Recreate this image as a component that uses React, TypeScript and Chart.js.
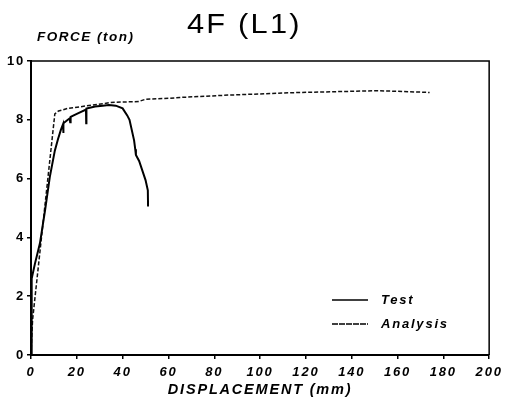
import React, { useEffect, useRef } from "react";
import { Chart, registerables } from "chart.js";

Chart.register(...registerables);

// ---- data ----
const titleText = "4F (L1)";
const yAxisTitle = "FORCE (ton)";
const xAxisTitle = "DISPLACEMENT (mm)";
const seriesNames = ["Test", "Analysis"];

const xTickValues = [0, 20, 40, 60, 80, 100, 120, 140, 160, 180, 200];
const yTickValues = [0, 2, 4, 6, 8, 10];

const testX = [0, 0.2, 0.4, 1.7, 3.9, 6.1, 8.2, 10.4, 11.8, 13, 14, 14.1, 14.2, 16.9, 17.1, 17.3, 20, 24, 24.1, 24.2, 28, 31.3, 34, 37, 40, 42, 43, 45, 45.5, 45.8, 47.2, 50, 51, 51.1];
const testY = [0, 1.0, 2.6, 3.1, 3.8, 4.9, 6.05, 6.95, 7.35, 7.65, 7.85, 7.55, 7.88, 8.05, 7.92, 8.1, 8.2, 8.35, 7.88, 8.38, 8.45, 8.48, 8.5, 8.48, 8.39, 8.15, 8.0, 7.3, 7.0, 6.8, 6.6, 5.95, 5.6, 5.05];

const analysisX = [0, 0.3, 0.7, 10.4, 12, 16.2, 24, 27, 34.2, 37, 47, 50, 60, 65, 73, 86, 100, 117, 135, 151, 160, 174];
const analysisY = [0, 0.6, 1.2, 8.2, 8.3, 8.39, 8.47, 8.5, 8.58, 8.6, 8.62, 8.7, 8.73, 8.76, 8.79, 8.84, 8.88, 8.93, 8.96, 8.99, 8.97, 8.93];

const FONT = "'Liberation Sans', Arial, Helvetica, sans-serif";

function toPoints(xs: number[], ys: number[]) {
  return xs.map((x, i) => ({ x, y: ys[i] }));
}

const decorPlugin = {
  id: "decor",
  beforeDraw(chart: any) {
    (chart.ctx as any).letterSpacing = "1.8px";
  },
  afterDraw(chart: any) {
    const ctx = chart.ctx as CanvasRenderingContext2D;
    const a = chart.chartArea;
    ctx.save();
    // frame (top / right)
    ctx.strokeStyle = "#000";
    ctx.lineWidth = 1.5;
    ctx.beginPath();
    ctx.moveTo(a.left, a.top);
    ctx.lineTo(a.right, a.top);
    ctx.lineTo(a.right, a.bottom);
    ctx.stroke();

    // title (wide, light sans)
    ctx.fillStyle = "#000";
    ctx.textBaseline = "alphabetic";
    ctx.textAlign = "left";
    ctx.save();
    ctx.translate(187, 33);
    ctx.scale(1.1, 1);
    (ctx as any).letterSpacing = "2px";
    ctx.font = `normal 28px ${FONT}`;
    ctx.fillText(titleText, 0, 0);
    ctx.restore();

    // y-axis title
    (ctx as any).letterSpacing = "1.5px";
    ctx.font = `italic bold 13.5px ${FONT}`;
    ctx.fillText(yAxisTitle, 37, 41);

    // legend inside plot
    const ds = chart.data.datasets;
    const rows = [
      { y: a.top + 239, idx: 0 },
      { y: a.top + 263, idx: 1 },
    ];
    rows.forEach((r) => {
      const d = ds[r.idx];
      ctx.beginPath();
      ctx.setLineDash(r.idx === 1 ? [6, 1] : []);
      ctx.lineWidth = 1.3;
      ctx.strokeStyle = "#000";
      ctx.moveTo(a.left + 301, r.y);
      ctx.lineTo(a.left + 337, r.y);
      ctx.stroke();
      ctx.setLineDash([]);
      (ctx as any).letterSpacing = "1.8px";
      ctx.font = `italic bold 13px ${FONT}`;
      ctx.textBaseline = "middle";
      ctx.fillText(d.label, a.left + 350, r.y);
    });
    ctx.restore();
  },
};

export default function App() {
  const ref = useRef<HTMLCanvasElement | null>(null);
  useEffect(() => {
    document.body.style.margin = "0";
    const canvas = ref.current!;
    const chart = new Chart(canvas, {
      type: "scatter",
      data: {
        datasets: [
          {
            label: seriesNames[0],
            data: toPoints(testX, testY),
            showLine: true,
            borderColor: "#000",
            borderWidth: 2,
            pointRadius: 0,
            tension: 0,
          },
          {
            label: seriesNames[1],
            data: toPoints(analysisX, analysisY),
            showLine: true,
            borderColor: "#111",
            borderWidth: 1.5,
            borderDash: [4, 2],
            pointRadius: 0,
            tension: 0,
          },
        ],
      },
      options: {
        animation: false,
        responsive: false,
        layout: { padding: { left: 0, top: 61, right: 13.5, bottom: 0 } },
        plugins: {
          legend: { display: false },
          title: { display: false },
          tooltip: { enabled: false },
        },
        scales: {
          x: {
            type: "linear",
            min: 0,
            max: 200,
            afterBuildTicks: (s: any) => {
              s.ticks = xTickValues.map((v) => ({ value: v }));
            },
            afterFit: (s: any) => {
              s.height = 48;
            },
            ticks: {
              color: "#000",
              padding: 6,
              maxRotation: 0,
              autoSkip: false,
              font: { family: FONT, size: 13, weight: "bold", style: "italic" },
            },
            grid: {
              display: true,
              drawOnChartArea: false,
              drawTicks: true,
              tickLength: 4,
              color: "#000",
              lineWidth: 1.5,
            },
            border: { display: true, color: "#000", width: 2 },
            title: {
              display: true,
              text: xAxisTitle,
              color: "#000",
              font: { family: FONT, size: 14.5, weight: "bold", style: "italic" },
              padding: { top: 0, bottom: 4 },
            },
          },
          y: {
            type: "linear",
            min: 0,
            max: 10,
            afterBuildTicks: (s: any) => {
              s.ticks = yTickValues.map((v) => ({ value: v }));
            },
            afterFit: (s: any) => {
              s.width = 31;
            },
            ticks: {
              color: "#000",
              padding: 2,
              autoSkip: false,
              font: { family: FONT, size: 13, weight: "bold" },
            },
            grid: {
              display: true,
              drawOnChartArea: false,
              drawTicks: true,
              tickLength: 4,
              color: "#000",
              lineWidth: 1.5,
            },
            border: { display: true, color: "#000", width: 2 },
          },
        },
      },
      plugins: [decorPlugin],
    } as any);
    return () => chart.destroy();
  }, []);
  return (
    <div style={{ width: 506, height: 403, background: "#fff" }}>
      <canvas ref={ref} width={506} height={403} style={{ display: "block" }} />
    </div>
  );
}
